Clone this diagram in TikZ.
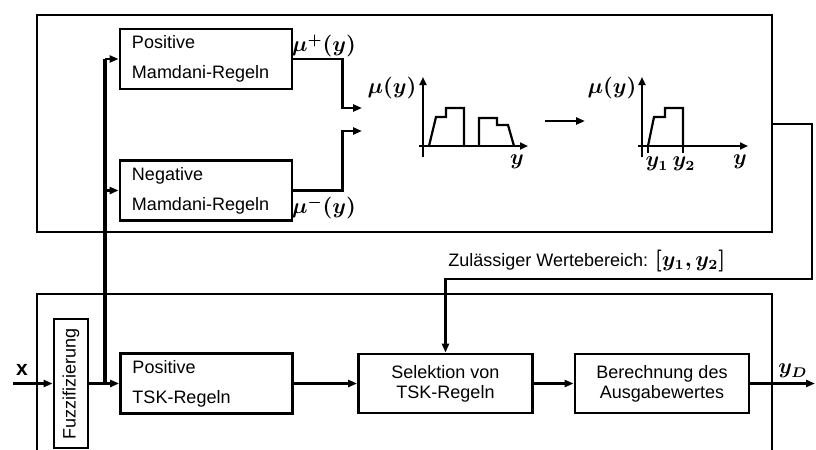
\documentclass[tikz,border=0pt]{standalone}
\usepackage{amsmath}
\usepackage{bm}
\usepackage{graphicx}
\usepackage{fontspec}
\setmainfont{Liberation Sans}
\usetikzlibrary{arrows.meta}

\tikzset{
	frame/.style={line width=1.2pt},
	regel/.style={draw,line width=1.4pt,minimum width=86pt,minimum height=29.5pt,
		inner xsep=6pt,text width=74pt,align=left,font=\fontsize{9}{15}\selectfont},
	block/.style={draw,line width=1.4pt,minimum width=87pt,minimum height=29.5pt,
		align=center,font=\fontsize{9}{10}\selectfont},
	fuzzbox/.style={draw,line width=1.4pt,minimum width=17pt,minimum height=64.5pt,
		inner sep=0pt,font=\fontsize{9}{10}\selectfont},
	conn/.style={line width=1.2pt,-{Triangle[length=4.5pt,width=3.5pt]}},
	axis/.style={line width=1.3pt,-{Triangle[length=4pt,width=3.5pt]}},
	curve/.style={line width=1.1pt,line join=miter},
	mlabel/.style={inner sep=0pt,font=\fontsize{10.5}{12}\selectfont}
}

\begin{document}
\begin{tikzpicture}[x=0.5pt,y=-0.5pt]
	\useasboundingbox (0,0) rectangle (816,450);

	% Rahmen
	\draw[frame] (37,15) rectangle (772,232);
	\draw[frame] (37,452) -- (37,294) -- (772,294) -- (772,452);

	% Bloecke
	\node[regel] (posM) at (206,59) {Positive\\Mamdani-Regeln};
	\node[regel] (negM) at (206,190.5) {Negative\\Mamdani-Regeln};
	\node[fuzzbox] (fuzz) at (71,383.5) {\rotatebox{90}{Fuzzifizierung}};
	\node[regel] (posT) at (206.5,383.5) {Positive\\TSK-Regeln};
	\node[block] (sel) at (445.5,383.5) {Selektion von\\TSK-Regeln};
	\node[block] (calc) at (662,383.5) {Berechnung des\\Ausgabewertes};

	% Eingang und Verzweigung
	\coordinate (xin) at (13,383.5);
	\coordinate (split) at (105,383.5);
	\node[mlabel] (xlab) at (22,370) {$\mathbf{x}$};
	\draw[conn] (xin) -- (fuzz);
	\draw[line width=1.6pt] (fuzz.east) -- (split);
	\draw[conn] (split) -- (posT);
	\draw[line width=1.6pt] (split) -- (split |- posM.west);
	\foreach \r in {posM,negM}
	{
		\draw[conn] (split |- \r.west) -- (\r.west);
	}

	% Ausgaenge der Mamdani-Regeln
	\coordinate (mixA) at (362,108);
	\coordinate (mixB) at (362,131);
	\draw[conn] (posM.east) -- ++(49,0) |- (mixA);
	\draw[conn] (negM.east) -- ++(49,0) |- (mixB);
	\node[mlabel] (muP) at (324,46) {$\bm{\mu^{+}(y)}$};
	\node[mlabel] (muM) at (324,208) {$\bm{\mu^{-}(y)}$};

	% Zugehoerigkeitsfunktion vorher
	\draw[axis] (423,157) -- (423,77);
	\draw[axis] (419,146) -- (528,146);
	\draw[curve] (429,146) -- (436,117) -- (446,117) -- (446,108) -- (464,108) -- (464,146);
	\draw[curve] (479,146) -- (479,118) -- (497,118) -- (497,125) -- (508,125) -- (514,146);
	\node[mlabel] (muA) at (392,88) {$\bm{\mu(y)}$};
	\node[mlabel] (yA) at (517,162) {$\bm{y}$};

	\draw[conn] (545,121) -- (585,121);

	% Zugehoerigkeitsfunktion nachher
	\draw[axis] (642,157) -- (642,77);
	\draw[axis] (638,146) -- (748,146);
	\draw[curve] (648,146) -- (654,117) -- (665,117) -- (665,108) -- (683,108) -- (683,146);
	\foreach \t/\l/\n in {648/657/1,683/684/2}
	{
		\draw[line width=1.1pt] (\t,146) -- (\t,153);
		\node[mlabel] (yy\n) at (\l,164) {$\bm{y_{\n}}$};
	}
	\node[mlabel] (muB) at (612,88) {$\bm{\mu(y)}$};
	\node[mlabel] (yB) at (740,162) {$\bm{y}$};

	% Zulaessiger Bereich
	\coordinate (rng) at (772,124);
	\draw[conn] (rng) -- ++(40,0) -- ++(0,155) -| (sel.north);
	\node[anchor=west,inner sep=0pt,font=\fontsize{9}{10}\selectfont] (rngLab) at (448,261)
		{Zulässiger Wertebereich: {\fontsize{10.5}{12}\selectfont$\bm{[y_1,y_2]}$}};

	% TSK-Kette
	\draw[conn] (posT) -- (sel);
	\draw[conn] (sel) -- (calc);
	\coordinate (yout) at (815,383.5);
	\draw[conn] (calc) -- (yout);
	\node[mlabel] (yD) at (793,371) {$\bm{y_D}$};
\end{tikzpicture}
\end{document}
